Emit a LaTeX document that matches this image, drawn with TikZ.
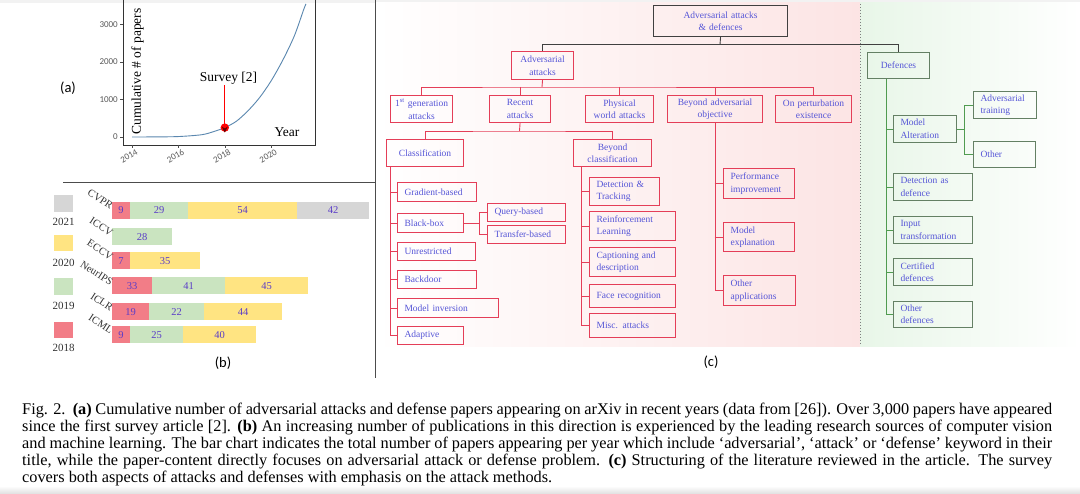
\documentclass[tikz,border=0pt]{standalone}
\usepackage{fontspec}
\setmainfont{Liberation Serif}
\newfontfamily\carl{Carlito}
\usetikzlibrary{arrows.meta}
\definecolor{boxred}{RGB}{228,62,88}
\definecolor{txtblue}{RGB}{85,85,215}
\definecolor{boxgreen}{RGB}{100,128,100}
\definecolor{linegreen}{RGB}{80,155,80}
\definecolor{pinkbg}{RGB}{252,228,228}
\definecolor{greenbg}{RGB}{232,246,232}
\definecolor{curveblue}{RGB}{90,135,175}
\definecolor{cA}{RGB}{242,125,135}
\definecolor{cB}{RGB}{202,228,192}
\definecolor{cC}{RGB}{255,228,130}
\definecolor{cD}{RGB}{214,214,214}
\definecolor{numtxt}{RGB}{90,60,200}
\newcommand\mybox[8]{%
 \pgfmathsetmacro\myw{#5-#3-6}%
 \pgfmathsetmacro\myh{#6-#4}%
 \node[#1, inner xsep=3pt, anchor=north west, text width=\myw pt, minimum height=\myh pt, align=#7] (#2) at (#3,#4) {#8};}
\newcommand\lbox[7]{%
 \pgfmathsetmacro\myw{#5-#3-14}%
 \pgfmathsetmacro\myh{#6-#4}%
 \node[#1, inner xsep=7pt, anchor=north west, text width=\myw pt, minimum height=\myh pt, align=left] (#2) at (#3,#4) {#7};}
\newcommand\barseg[6]{%
 \fill[#1] ({#2},{#4-8.5}) rectangle ({#3},{#4+8.5});
 \node[numlbl] (#6) at ({(#2+#3)/2},{#4}) {#5};}
\tikzset{
 tb/.style={font=\fontsize{9.5}{12.5}\selectfont, text=txtblue, inner ysep=0pt},
 rbox/.style={tb, draw=boxred, line width=1.1pt},
 gbox/.style={tb, draw=boxgreen, line width=1pt},
 kbox/.style={tb, draw=black!75, line width=1.1pt},
 rline/.style={draw=boxred, line width=0.9pt},
 gline/.style={draw=linegreen, line width=0.9pt},
 kline/.style={draw=black!75, line width=0.9pt},
 ticklbl/.style={font=\carl\fontsize{9}{9}\selectfont, text=black!65, inner sep=1pt},
 numlbl/.style={font=\fontsize{10.5}{10.5}\selectfont, text=numtxt, inner sep=0pt},
 venue/.style={font=\fontsize{10.5}{10.5}\selectfont, text=black!80, inner sep=0pt},
 yrlbl/.style={font=\fontsize{11}{11}\selectfont, text=black!80, inner sep=0pt},
 panel/.style={font=\carl\fontsize{14.5}{14.5}\selectfont, inner sep=0pt},
 capline/.style={font=\fontsize{16.3}{16.9}\selectfont, inner sep=0pt, anchor=base west},
}
\begin{document}
\begin{tikzpicture}[x=1pt,y=-1pt]
\useasboundingbox (0,0) rectangle (1080,494);
\fill[white] (0,0) rectangle (1080,494);
\fill[gray!10] (0,0) rectangle (1080,3);
\shade[top color=white, bottom color=gray!25] (0,486) rectangle (1080,494);
% backgrounds of (c)
\shade[left color=white, right color=pinkbg] (376,3) rectangle (860,347);
\shade[left color=greenbg, right color=white] (860,3) rectangle (1080,347);
\draw[gray, line width=0.8pt, dash pattern=on 1.5pt off 1.5pt] (860.5,4) -- (860.5,346);
% separators
\draw[black!70, line width=0.8pt] (375,0) -- (375,378);
\draw[black!70, line width=0.8pt] (63,182) -- (375,182);
% ---------- (a)
\draw[black!80, line width=0.6pt] (123,0) -- (123,145) -- (315,145) -- (315,0);
\foreach \v/\yy in {0/137,1000/99.5,2000/62,3000/24.5}{
  \draw[black!70, line width=0.5pt] (120,\yy) -- (123,\yy);
  \node[ticklbl, anchor=east] (yt\v) at (119,\yy) {\v};}
\foreach \yr/\xx in {2014/132,2016/178.4,2018/224.8,2020/271.2}{
  \draw[black!70, line width=0.5pt] (\xx,145) -- (\xx,148);
  \node[ticklbl, rotate=30] (xt\yr) at (\xx-3,156) {\yr};}
\draw[curveblue, line width=0.9pt] plot[smooth] coordinates {(132,137) (155.2,136.9) (178.4,136.55) (201.6,134.75) (213.2,131.75) (224.8,127.6) (236.4,121.25) (248,110.75) (259.6,97.6) (271.2,80.75) (282.8,60.1) (294.4,35.75) (303.7,9.5) (306,3.9)};
\node[font=\fontsize{13.5}{13.5}\selectfont, rotate=90, inner sep=0pt] (ylab) at (137.5,71.5) {Cumulative \# of papers};
\node[font=\fontsize{13.5}{13.5}\selectfont, inner sep=0pt] (yearlab) at (287,132) {Year};
\node[font=\fontsize{13.5}{13.5}\selectfont, inner sep=1pt] (sv) at (228.5,78) {Survey [2]};
\coordinate (dot) at (224.8,127.6);
\fill[red] (dot) circle (4.2);
\draw[red, line width=0.8pt, -{Stealth[length=6pt,width=6pt,color=red!40!black]}] (sv.south -| dot) -- ([yshift=-5pt]dot);
\node[panel] (pa) at (68,88) {(a)};
% ---------- (b)
\fill[cD] (54,195) rectangle (73,212);
\node[yrlbl] (l21) at (63.5,222) {2021};
\fill[cC] (54,235) rectangle (73,251);
\node[yrlbl] (l20) at (63.5,263) {2020};
\fill[cB] (54,278) rectangle (73,295);
\node[yrlbl] (l19) at (63.5,306) {2019};
\fill[cA] (54,322) rectangle (73,338);
\node[yrlbl] (l18) at (63.5,348) {2018};
\barseg{cA}{112}{130}{210.5}{9}{n1}
\barseg{cB}{130}{188}{210.5}{29}{n2}
\barseg{cC}{188}{297}{210.5}{54}{n3}
\barseg{cD}{297}{369}{210.5}{42}{n4}
\barseg{cB}{112}{172}{237}{28}{n5}
\barseg{cA}{112}{130}{261}{7}{n6}
\barseg{cC}{130}{200}{261}{35}{n7}
\barseg{cA}{112}{152}{286}{33}{n8}
\barseg{cB}{152}{225}{286}{41}{n9}
\barseg{cC}{225}{308}{286}{45}{n10}
\barseg{cA}{112}{149}{312}{19}{n11}
\barseg{cB}{149}{204}{312}{22}{n12}
\barseg{cC}{204}{282}{312}{44}{n13}
\barseg{cA}{112}{130}{335}{9}{n14}
\barseg{cB}{130}{183}{335}{25}{n15}
\barseg{cC}{183}{256}{335}{40}{n16}
\node[venue, rotate=-33, anchor=east] (v1) at (112,207) {CVPR};
\node[venue, rotate=-33, anchor=east] (v2) at (112,233.5) {ICCV};
\node[venue, rotate=-33, anchor=east] (v3) at (112,257.5) {ECCV};
\node[venue, rotate=-33, anchor=east] (v4) at (112,283) {NeurIPS};
\node[venue, rotate=-33, anchor=east] (v5) at (112,308.5) {ICLR};
\node[venue, rotate=-33, anchor=east] (v6) at (112,331.5) {ICML};
\node[panel] (pb) at (223,363) {(b)};
% ---------- (c)
\mybox{kbox}{root}{653}{5}{787}{36}{center}{Adversarial attacks\\\& defences}
\mybox{rbox}{att}{511}{51}{573}{79}{center}{Adversarial\\attacks}
\mybox{rbox}{g1}{390}{95}{452}{122}{center}{1\textsuperscript{st} generation\\attacks}
\mybox{rbox}{g2}{489}{95}{550}{122}{center}{Recent\\attacks}
\mybox{rbox}{g3}{585}{95}{653}{122}{center}{Physical\\world attacks}
\mybox{rbox}{g4}{667}{95}{762}{122}{center}{Beyond adversarial\\objective}
\mybox{rbox}{g5}{775}{95}{851}{122}{center}{On perturbation\\existence}
\mybox{rbox}{cls}{386}{139}{463}{166}{center}{Classification}
\mybox{rbox}{bcl}{573}{139}{651}{166}{center}{Beyond\\classification}
\lbox{rbox}{c1}{397}{182}{476}{201}{Gradient-based}
\lbox{rbox}{c2}{397}{213}{463}{232}{Black-box}
\lbox{rbox}{c3}{397}{242}{475}{260}{Unrestricted}
\lbox{rbox}{c4}{397}{270}{476}{288}{Backdoor}
\lbox{rbox}{c5}{397}{298}{498}{317}{Model inversion}
\lbox{rbox}{c6}{397}{326}{463}{344}{Adaptive}
\lbox{rbox}{q1}{487}{203}{565}{221}{Query-based}
\lbox{rbox}{q2}{487}{225}{565}{243}{Transfer-based}
\lbox{rbox}{b1}{589}{177}{659}{205}{Detection \&\\Tracking}
\lbox{rbox}{b2}{589}{211}{675}{240}{Reinforcement\\Learning}
\lbox{rbox}{b3}{589}{247}{675}{276}{Captioning and\\description}
\lbox{rbox}{b4}{589}{284}{675}{307}{Face recognition}
\lbox{rbox}{b5}{589}{313}{675}{337}{Misc. attacks}
\lbox{rbox}{o1}{723}{168}{794}{198}{Performance\\improvement}
\lbox{rbox}{o2}{723}{222}{794}{251}{Model\\explanation}
\lbox{rbox}{o3}{723}{275}{795}{305}{Other\\applications}
\mybox{gbox}{def}{867}{52}{929}{78}{center}{Defences}
\lbox{gbox}{d1}{893}{115}{956}{142}{Model\\Alteration}
\lbox{gbox}{a1}{973}{91}{1036}{118}{Adversarial\\training}
\lbox{gbox}{a2}{973}{141}{1035}{167}{Other}
\lbox{gbox}{d2}{893}{173}{972}{200}{Detection as\\defence}
\lbox{gbox}{d3}{893}{216}{972}{243}{Input\\transformation}
\lbox{gbox}{d4}{893}{258}{972}{285}{Certified\\defences}
\lbox{gbox}{d5}{893}{301}{972}{327}{Other\\defences}
% connectors
\coordinate (j0) at (720,44.5);
\draw[kline] (root.south) -- (j0);
\draw[kline] (att.north) |- (j0) -| (def.north);
\coordinate (j1) at (542,87);
\draw[rline] (att.south) -- (j1);
\draw[rline] (g1.north) |- (j1) -| (g5.north);
\draw[rline] (j1 -| g2.north) -- (g2.north);
\draw[rline] (j1 -| g3.north) -- (g3.north);
\draw[rline] (j1 -| g4.north) -- (g4.north);
\coordinate (j2) at (519.5,131);
\draw[rline] (g2.south) -- (j2);
\draw[rline] (cls.north) |- (j2) -| (bcl.north);
\coordinate (cv) at (390,0);
\draw[rline] (cls.south -| cv) |- (c6.west);
\foreach \n in {c1,c2,c3,c4,c5}{\draw[rline] (\n.west -| cv) -- (\n.west);}
\coordinate (bbx) at (479,0);
\draw[rline] (c2.east) -- (c2.east -| bbx);
\draw[rline] (q1.west) -| (bbx |- q2.west) -- (q2.west);
\coordinate (cv2) at (581,0);
\draw[rline] (bcl.south -| cv2) |- (b5.west);
\foreach \n in {b1,b2,b3,b4}{\draw[rline] (\n.west -| cv2) -- (\n.west);}
\coordinate (cv3) at (714.5,0);
\draw[rline] (g4.south) |- (o3.west);
\foreach \n in {o1,o2}{\draw[rline] (\n.west -| cv3) -- (\n.west);}
\coordinate (cv4) at (886,0);
\draw[gline] (def.south -| cv4) |- (d5.west);
\foreach \n in {d1,d2,d3,d4}{\draw[gline] (\n.west -| cv4) -- (\n.west);}
\coordinate (bx) at (964,0);
\draw[gline] (d1.east) -- (d1.east -| bx);
\draw[gline] (a1.west) -| (bx |- a2.west) -- (a2.west);
\node[panel] (pc) at (711,362) {(c)};
% ---------- caption
\node[capline] (cap1) at (22,415) {\makebox[1030pt][s]{Fig. 2.\ \ \textbf{(a)} Cumulative number of adversarial attacks and defense papers appearing on arXiv in recent years (data from [26]). Over 3,000 papers have appeared}};
\node[capline] (cap2) at (22,431.9) {\makebox[1030pt][s]{since the first survey article [2]. \textbf{(b)} An increasing number of publications in this direction is experienced by the leading research sources of computer vision}};
\node[capline] (cap3) at (22,448.8) {\makebox[1030pt][s]{and machine learning. The bar chart indicates the total number of papers appearing per year which include ‘adversarial’, ‘attack’ or ‘defense’ keyword in their}};
\node[capline] (cap4) at (22,465.7) {\makebox[1030pt][s]{title, while the paper-content directly focuses on adversarial attack or defense problem. \textbf{(c)} Structuring of the literature reviewed in the article. The survey}};
\node[capline] (cap5) at (22,482.6) {covers both aspects of attacks and defenses with emphasis on the attack methods.};
\end{tikzpicture}
\end{document}
